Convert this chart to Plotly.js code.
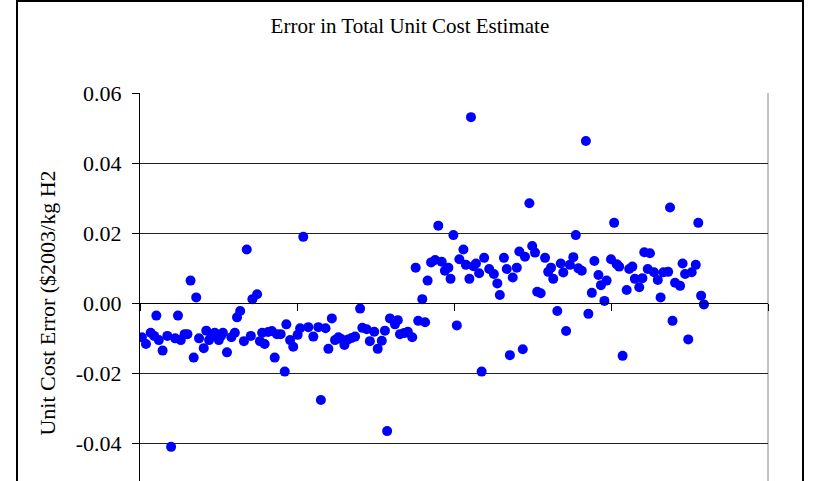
<!DOCTYPE html>
<html>
<head>
<meta charset="utf-8">
<script src="https://cdn.plot.ly/plotly-3.0.1.min.js"></script>
<style>
  html, body { margin: 0; padding: 0; background: #fff; overflow: hidden; }
  #chart { position: absolute; left: 0; top: 0; width: 815px; height: 560px; }
  #frame { position: absolute; left: 16px; top: 0; width: 784px; height: 600px;
           border-left: 2px solid #000; border-right: 2px solid #000; border-top: 2px solid #000;
           pointer-events: none; }
</style>
</head>
<body>
<div id="chart"></div>
<div id="frame"></div>
<script>
// Sample index (x) and unit cost error (y, $2003/kg H2)
const sampleX = [
  0.6, 1.9, 3.4, 4.5, 5.2, 6.0, 7.2, 8.7, 9.9, 11.2,
  12.1, 13.0, 14.2, 15.1, 16.1, 17.1, 17.9, 18.8, 20.3, 21.1,
  22.0, 22.9, 23.8, 25.1, 25.8, 26.4, 27.7, 29.1, 30.2, 30.9,
  31.9, 33.1, 34.0, 35.3, 35.8, 37.3, 38.2, 38.9, 39.7, 40.8,
  42.0, 42.9, 43.6, 44.8, 46.1, 46.6, 47.8, 48.8, 50.2, 51.0,
  52.0, 53.6, 55.2, 56.8, 57.6, 59.1, 60.0, 61.1, 62.1, 63.2,
  64.1, 65.1, 66.3, 67.4, 68.5, 70.1, 70.8, 72.2, 73.2, 74.6,
  75.7, 77.0, 78.0, 78.7, 79.6, 81.2, 82.1, 82.8, 84.1, 85.3,
  86.7, 87.8, 88.6, 89.9, 90.8, 91.6, 92.7, 94.0, 95.0, 96.1,
  97.1, 98.2, 98.9, 99.8, 100.9, 101.7, 103.0, 103.8, 104.9, 105.4,
  106.2, 107.0, 108.0, 108.8, 109.6, 111.2, 112.7, 113.8, 114.6, 115.9,
  116.8, 117.8, 118.7, 120.0, 120.8, 121.9, 122.6, 124.0, 124.9, 125.8,
  126.5, 127.6, 129.0, 130.0, 130.9, 131.6, 132.9, 134.0, 134.8, 135.7,
  136.9, 138.0, 138.8, 139.6, 140.7, 142.0, 142.8, 143.9, 144.7, 146.0,
  146.8, 147.9, 148.6, 150.0, 151.0, 151.8, 152.6, 153.7, 155.0, 155.8,
  156.8, 157.6, 159.0, 160.0, 160.6, 161.7, 162.4, 163.7, 164.9, 165.8,
  166.7, 168.2, 168.8, 169.6, 170.4, 172.0, 172.8, 173.6, 174.6, 175.7,
  177.0, 177.8, 178.7, 179.6
];
const costError = [
  -0.0098, -0.0117, -0.0085, -0.0094, -0.0036, -0.0106, -0.0136, -0.0094, -0.0411, -0.0101,
  -0.0036, -0.0106, -0.0089, -0.0089, 0.0064, -0.0156, 0.0016, -0.0101, -0.0129, -0.0079,
  -0.0106, -0.0094, -0.0085, -0.0106, -0.0094, -0.0085, -0.0141, -0.0098, -0.0085, -0.0041,
  -0.0023, -0.0109, 0.0153, -0.0094, 0.0011, 0.0025, -0.0109, -0.0085, -0.0117, -0.0083,
  -0.0080, -0.0156, -0.0089, -0.0089, -0.0196, -0.0061, -0.0106, -0.0125, -0.0091, -0.0072,
  0.0189, -0.0069, -0.0096, -0.0069, -0.0277, -0.0072, -0.0131, -0.0044, -0.0106, -0.0098,
  -0.0103, -0.0120, -0.0104, -0.0100, -0.0096, -0.0016, -0.0071, -0.0075, -0.0109, -0.0082,
  -0.0131, -0.0108, -0.0079, -0.0366, -0.0044, -0.0061, -0.0049, -0.0089, -0.0086, -0.0082,
  -0.0098, 0.0101, -0.0051, 0.0011, -0.0055, 0.0064, 0.0116, 0.0123, 0.0221, 0.0118,
  0.0092, 0.0101, 0.0069, 0.0194, -0.0064, 0.0125, 0.0153, 0.0109, 0.0069, 0.0531,
  0.0105, 0.0113, 0.0085, -0.0196, 0.0129, 0.0097, 0.0083, 0.0056, 0.0023, 0.0129,
  0.0097, -0.0149, 0.0073, 0.0101, 0.0147, -0.0132, 0.0132, 0.0285, 0.0163, 0.0144,
  0.0032, 0.0028, 0.0129, 0.0089, 0.0101, 0.0069, -0.0023, 0.0113, 0.0087, -0.0080,
  0.0109, 0.0131, 0.0194, 0.0099, 0.0092, 0.0463, -0.0031, 0.0029, 0.0120, 0.0080,
  0.0051, 0.0006, 0.0064, 0.0125, 0.0229, 0.0111, 0.0104, -0.0151, 0.0037, 0.0097,
  0.0104, 0.0069, 0.0045, 0.0071, 0.0145, 0.0097, 0.0142, 0.0088, 0.0066, 0.0016,
  0.0088, 0.0089, 0.0273, -0.0051, 0.0058, 0.0049, 0.0113, 0.0083, -0.0104, 0.0088,
  0.0109, 0.0229, 0.0021, -0.0004
];
const yTickVals = [-0.04, -0.02, 0.00, 0.02, 0.04, 0.06];
const yTickText = ["-0.04", "-0.02", "0.00", "0.02", "0.04", "0.06"];
const xTickVals = [0, 50, 100, 150, 200];

const serif = "'Liberation Serif', 'Times New Roman', serif";

const trace = {
  type: 'scatter',
  mode: 'markers',
  x: sampleX,
  y: costError,
  marker: { color: '#0000FF', size: 10, line: { width: 0 } },
  hoverinfo: 'x+y'
};

const layout = {
  width: 815,
  height: 560,
  margin: { l: 140, r: 47, t: 93, b: 47 },
  paper_bgcolor: '#ffffff',
  plot_bgcolor: '#ffffff',
  showlegend: false,
  font: { family: serif, color: '#000' },
  title: {
    text: 'Error in Total Unit Cost Estimate',
    font: { family: serif, size: 21, color: '#000' },
    x: 0.503, xanchor: 'center',
    y: 0.955, yanchor: 'middle'
  },
  xaxis: {
    range: [0, 200],
    tickvals: xTickVals,
    showticklabels: false,
    ticks: 'outside', ticklen: 7, tickwidth: 1, tickcolor: '#000',
    showgrid: false, zeroline: false,
    showline: true, linecolor: '#000', linewidth: 1,
    anchor: 'free', position: 0.5
  },
  yaxis: {
    range: [-0.06, 0.06],
    tickvals: yTickVals,
    ticktext: yTickText,
    tickfont: { family: serif, size: 22, color: '#000' },
    ticks: 'outside', ticklen: 7, tickwidth: 1, tickcolor: '#000',
    ticklabelstandoff: 6,
    showgrid: true, gridcolor: '#222', gridwidth: 1,
    zeroline: false,
    showline: true, linecolor: '#000', linewidth: 1,
    title: {
      text: 'Unit Cost Error ($2003/kg H2',
      font: { family: serif, size: 22, color: '#000' },
      standoff: 14
    }
  },
  shapes: [
    { type: 'line', xref: 'paper', yref: 'paper', x0: 1, x1: 1, y0: 0, y1: 1,
      line: { color: '#888', width: 1 }, layer: 'below' }
  ]
};

Plotly.newPlot('chart', [trace], layout, { displayModeBar: false, staticPlot: true });
</script>
</body>
</html>
